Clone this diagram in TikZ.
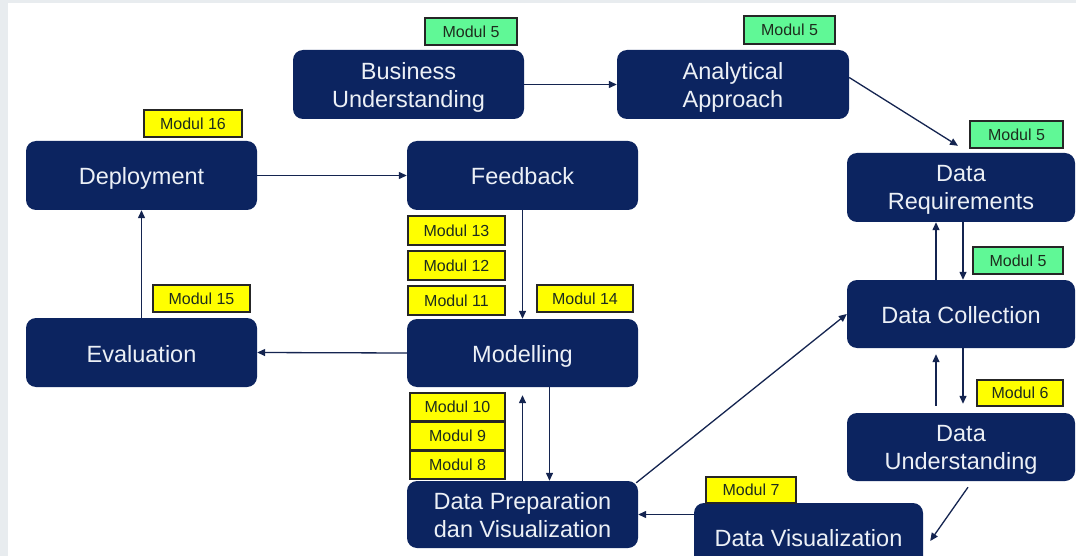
\documentclass[tikz,border=0pt]{standalone}
\usepackage{fontspec}
\setmainfont{Liberation Sans}
\usetikzlibrary{arrows.meta}
\definecolor{navy}{RGB}{12,36,96}
\definecolor{boxtext}{RGB}{236,240,246}
\definecolor{ylw}{RGB}{255,255,0}
\definecolor{grn}{RGB}{96,248,150}
\definecolor{lbltext}{RGB}{30,45,30}
\definecolor{edgegray}{RGB}{232,236,239}
\definecolor{arrcol}{RGB}{20,36,80}
\tikzset{
  stage/.style={rounded corners=10pt, fill=navy, text=boxtext, inner sep=0pt,
    align=center, text depth=0pt, font=\fontsize{23.5}{28}\selectfont},
  oneline/.style={stage, text height=20pt, text depth=1pt},
  lbl/.style={draw=black!85, line width=2pt, inner sep=0pt, text=lbltext,
    font=\fontsize{16}{19}\selectfont},
  ylab/.style={lbl, fill=ylw},
  glab/.style={lbl, fill=grn},
  arr/.style={draw=arrcol, line width=1.3pt, -{Triangle[length=8pt,width=7pt]}}
}
\begin{document}
\begin{tikzpicture}[x=1pt,y=-1pt]
\useasboundingbox (0,0) rectangle (1076,556);
\clip (0,0) rectangle (1076,556);
\fill[white] (0,0) rectangle (1076,556);
\fill[edgegray] (0,0) rectangle (8,556);
\fill[edgegray] (0,0) rectangle (1076,3);

% stages
\node[stage, minimum width=231pt, minimum height=69pt] (BU) at (408.5,84.5) {Business\\Understanding};
\node[stage, minimum width=232pt, minimum height=69pt] (AA) at (733,84.5) {Analytical\\Approach};
\node[stage, minimum width=228pt, minimum height=69pt] (DR) at (961,187.5) {Data\\Requirements};
\node[oneline, minimum width=228pt, minimum height=68pt] (DC) at (961,314) {Data Collection};
\node[stage, minimum width=228pt, minimum height=68pt] (DU) at (961,447) {Data\\Understanding};
\node[oneline, minimum width=229pt, minimum height=68pt] (DV) at (808.5,537) {Data Visualization};
\node[stage, minimum width=231pt, minimum height=67pt] (DP) at (522.5,514.5) {Data Preparation\\dan Visualization};
\node[oneline, minimum width=231pt, minimum height=68pt] (MO) at (522.5,353) {Modelling};
\node[oneline, minimum width=231pt, minimum height=69pt] (FB) at (522.5,175.5) {Feedback};
\node[oneline, minimum width=231pt, minimum height=69pt] (DE) at (141.5,175.5) {Deployment};
\node[oneline, minimum width=231pt, minimum height=69pt] (EV) at (141.5,352.5) {Evaluation};

% labels
\node[glab, minimum width=92pt, minimum height=27pt] (lBU) at (471,31.5) {Modul 5};
\node[glab, minimum width=91pt, minimum height=28pt] (lAA) at (789.5,30) {Modul 5};
\node[glab, minimum width=93pt, minimum height=27pt] (lDR) at (1016.5,134.5) {Modul 5};
\node[glab, minimum width=90pt, minimum height=27pt] (lDC) at (1018,260.5) {Modul 5};
\node[ylab, minimum width=86pt, minimum height=26pt] (lDU) at (1020,393) {Modul 6};
\node[ylab, minimum width=90pt, minimum height=26pt] (lDV) at (751,490) {Modul 7};
\node[ylab, minimum width=95pt, minimum height=28pt] (m10) at (457.5,407) {Modul 10};
\node[ylab, minimum width=95pt, minimum height=28pt] (m9) at (457.5,436) {Modul 9};
\node[ylab, minimum width=95pt, minimum height=28pt] (m8) at (457.5,464.5) {Modul 8};
\node[ylab, minimum width=96pt, minimum height=27pt] (m14) at (585,298.5) {Modul 14};
\node[ylab, minimum width=97pt, minimum height=29pt] (m11) at (456.5,300.5) {Modul 11};
\node[ylab, minimum width=97pt, minimum height=29pt] (m12) at (456.5,265.5) {Modul 12};
\node[ylab, minimum width=97pt, minimum height=29pt] (m13) at (456.5,230.5) {Modul 13};
\node[ylab, minimum width=98pt, minimum height=27pt] (m16) at (193,123.5) {Modul 16};
\node[ylab, minimum width=97pt, minimum height=27pt] (m15) at (201.5,298.5) {Modul 15};

% connectors
\draw[arr] (BU.east) -- (AA.west);
\draw[arr] ([yshift=7pt]AA.east) -- ([xshift=-3pt,yshift=7pt]DR.north);
\draw[arr] ([xshift=-25pt]DC.north) -- ([xshift=-25pt]DR.south);
\draw[arr] ([xshift=2pt]DR.south) -- ([xshift=2pt]DC.north);
\draw[arr, shorten <=7pt, shorten >=6pt] ([xshift=-25pt]DU.north) -- ([xshift=-25pt]DC.south);
\draw[arr, shorten >=9pt] ([xshift=2pt]DC.south) -- ([xshift=2pt]DU.north);
\draw[arr] ([xshift=7pt,yshift=-6pt]DU.south) -- ([xshift=7pt,yshift=-4pt]DV.east);
\draw[arr] (DP.east -| DV.west) -- (DP.east);
\draw[arr] ([xshift=-2pt,yshift=-2pt]DP.north east) -- (DC.west);
\draw[arr, shorten >=8pt] (DP.north) -- (MO.south);
\draw[arr] ([xshift=27pt]MO.south) -- ([xshift=27pt]DP.north);
\draw[arr] (FB.south) -- (MO.north);
\draw[arr] (MO.west) -- (EV.east);
\draw[arr] (EV.north) -- (DE.south);
\draw[arr] (DE.east) -- (FB.west);
\end{tikzpicture}
\end{document}
